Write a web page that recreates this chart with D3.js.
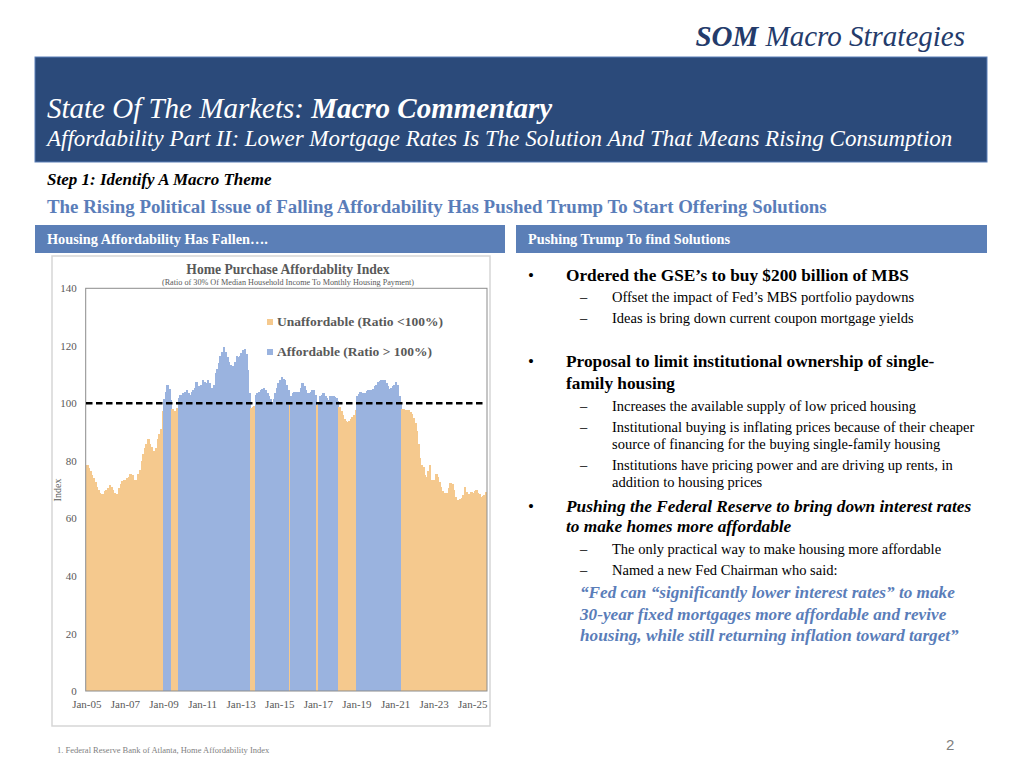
<!DOCTYPE html>
<html>
<head>
<meta charset="utf-8">
<script src="https://cdn.jsdelivr.net/npm/d3@7"></script>
<style>
  body { margin: 0; background: #fff; }
  svg text { font-family: "Liberation Serif", "Times New Roman", serif; }
</style>
</head>
<body>
<div id="page"></div>
<script>

// monthly affordability index, Jan-05 .. Sep-25
var idx2005 = [78.5, 77.5, 76.5, 75, 74, 72.5, 71, 70, 69, 68.5, 68.5, 69.5];
var idx2006 = [70, 70.5, 71.5, 71, 70, 69, 68.5, 68.5, 70.5, 72, 73, 73.5];
var idx2007 = [73.5, 74, 74.5, 75.5, 75, 73.5, 73.5, 73.5, 75.5, 77, 80, 82.5];
var idx2008 = [84.5, 86, 87.5, 86, 85, 83.5, 83, 84.5, 87.5, 89.5, 91, 97.5];
var idx2009 = [101.5, 104, 106.5, 105, 101, 98, 97.5, 97.5, 98.5, 102, 103, 103];
var idx2010 = [103.5, 104, 104.5, 103.5, 103, 104, 104.5, 105.5, 107.5, 106, 105, 106.5];
var idx2011 = [108, 107.5, 107, 108, 107, 105.5, 105.5, 106.5, 110.5, 112, 114, 116.5];
var idx2012 = [118, 119.5, 118, 116, 114.5, 113.5, 112, 113, 114.5, 116.5, 116, 116.5];
var idx2013 = [117.5, 118.5, 119, 117, 111.5, 103.5, 98.5, 98.8, 99, 103, 103.5, 104];
var idx2014 = [104.5, 105, 105.5, 104.5, 103.5, 102.5, 101.5, 100.5, 101.5, 103.5, 105.5, 107];
var idx2015 = [108, 109, 108.5, 108, 106.5, 104.5, 99.3, 102.5, 103.5, 104, 104, 103.5];
var idx2016 = [104, 105.5, 107, 106, 104.5, 103.5, 103.5, 104, 104.5, 104.7, 103, 99.3];
var idx2017 = [100.5, 102.5, 103, 103.5, 102.5, 101.8, 101.2, 102.5, 102.6, 102.6, 102.2, 101.7];
var idx2018 = [100.8, 98.8, 97.5, 96, 94.7, 93.8, 93.5, 94, 94.5, 95.1, 95.8, 97.8];
var idx2019 = [102.4, 103.2, 104, 103.5, 103, 103.5, 104.2, 104.5, 104.5, 104, 105, 106];
var idx2020 = [106.5, 107.4, 107.8, 108, 108.2, 108, 107, 106, 105, 105.5, 106, 106.5];
var idx2021 = [107.4, 106.5, 102.4, 100.5, 98.2, 98, 97.8, 97.7, 97.6, 97, 96.4, 95];
var idx2022 = [93, 90.5, 86, 81, 78.5, 78, 75, 74.5, 76.5, 78.5, 73.5, 70];
var idx2023 = [73.5, 75.6, 74.5, 72.7, 71, 69.5, 68.7, 67.5, 68.7, 70.5, 72.4, 72.1];
var idx2024 = [70, 67.5, 66.5, 66.3, 66.9, 67, 68.1, 71, 69.3, 68.5, 68.1, 69.3];
var idx2025 = [68.7, 69.5, 69.8, 68.7, 68.5, 67.5, 67.8, 68.1, 69.3];

var affordIndex = [].concat(idx2005, idx2006, idx2007, idx2008, idx2009, idx2010,
  idx2011, idx2012, idx2013, idx2014, idx2015, idx2016, idx2017, idx2018,
  idx2019, idx2020, idx2021, idx2022, idx2023, idx2024, idx2025);

var xTickLabels = ["Jan-05", "Jan-07", "Jan-09", "Jan-11", "Jan-13", "Jan-15",
  "Jan-17", "Jan-19", "Jan-21", "Jan-23", "Jan-25"];
var yTicks = [0, 20, 40, 60, 80, 100, 120, 140];
var threshold = 100;
var legendLabels = ["Unaffordable (Ratio <100%)", "Affordable (Ratio > 100%)"];
var seriesColors = ["#F5C98E", "#9AB3DF"];

var bullets = [
  {type: "main", text: "Ordered the GSE\u2019s to buy $200 billion of MBS", y: 281},
  {type: "sub", text: "Offset the impact of Fed\u2019s MBS portfolio paydowns", y: 302},
  {type: "sub", text: "Ideas is bring down current coupon mortgage yields", y: 322.5},
  {type: "main", text: "Proposal to limit institutional ownership of single-", y: 366.5},
  {type: "cont", text: "family housing", y: 389},
  {type: "sub", text: "Increases the available supply of low priced housing", y: 411},
  {type: "sub", text: "Institutional buying is inflating prices because of their cheaper", y: 431.5},
  {type: "cont2", text: "source of financing for the buying single-family housing", y: 448.5},
  {type: "sub", text: "Institutions have pricing power and are driving up rents, in", y: 469.5},
  {type: "cont2", text: "addition to housing prices", y: 486.5},
  {type: "mainI", text: "Pushing the Federal Reserve to bring down interest rates", y: 511.5},
  {type: "contI", text: "to make homes more affordable", y: 532},
  {type: "sub", text: "The only practical way to make housing more affordable", y: 553.5},
  {type: "sub", text: "Named a new Fed Chairman who said:", y: 575},
  {type: "quote", text: "\u201CFed can \u201Csignificantly lower interest rates\u201D to make", y: 598},
  {type: "quote", text: "30-year fixed mortgages more affordable and revive", y: 619.5},
  {type: "quote", text: "housing, while still returning inflation toward target\u201D", y: 641}
];

var svg = d3.select("#page")
  .append("svg")
    .attr("width", 1024)
    .attr("height", 772);

// ---- page header ----
var brand = svg.append("text")
    .attr("x", 965).attr("y", 46)
    .attr("text-anchor", "end")
    .style("font-size", "29px")
    .style("font-style", "italic")
    .style("fill", "#243B6B");
brand.append("tspan").style("font-weight", "bold").text("SOM");
brand.append("tspan").text(" Macro Strategies");

svg.append("rect")
    .attr("x", 35).attr("y", 57).attr("width", 952).attr("height", 105)
    .style("fill", "#2B4A7A")
    .style("stroke", "#5B7FB7").style("stroke-width", 1);

var t1 = svg.append("text")
    .attr("x", 47).attr("y", 118)
    .style("font-size", "29px").style("font-style", "italic")
    .style("fill", "#fff");
t1.append("tspan").text("State Of The Markets: ");
t1.append("tspan").style("font-weight", "bold").text("Macro Commentary");

svg.append("text")
    .attr("x", 47).attr("y", 146)
    .style("font-size", "23px").style("font-style", "italic")
    .style("fill", "#fff")
    .text("Affordability Part II: Lower Mortgage Rates Is The Solution And That Means Rising Consumption");

svg.append("text")
    .attr("x", 47).attr("y", 185)
    .style("font-size", "17px").style("font-style", "italic").style("font-weight", "bold")
    .style("fill", "#000")
    .text("Step 1: Identify A Macro Theme");

svg.append("text")
    .attr("x", 47).attr("y", 213)
    .style("font-size", "18.9px").style("font-weight", "bold")
    .style("fill", "#5A7DB9")
    .text("The Rising Political Issue of Falling Affordability Has Pushed Trump To Start Offering Solutions");

// section bars
var bars = [{x: 35, w: 470, t: "Housing Affordability Has Fallen\u2026."},
            {x: 516, w: 471, t: "Pushing Trump To find Solutions"}];
svg.selectAll(".secbar")
  .data(bars)
  .enter()
  .append("rect")
    .attr("x", function(d) { return d.x; })
    .attr("y", 225).attr("height", 28)
    .attr("width", function(d) { return d.w; })
    .style("fill", "#5B7FB7");
svg.selectAll(".sectxt")
  .data(bars)
  .enter()
  .append("text")
    .attr("x", function(d) { return d.x + 12; })
    .attr("y", 244)
    .style("font-size", "14.3px").style("font-weight", "bold")
    .style("fill", "#fff")
    .text(function(d) { return d.t; });

// ---- chart panel ----
svg.append("rect")
    .attr("x", 52).attr("y", 256).attr("width", 438).attr("height", 470)
    .style("fill", "#fff")
    .style("stroke", "#d6d6d6").style("stroke-width", 1.5);

var plot = {left: 85.7, top: 288.3, right: 487, bottom: 691};

var x = d3.scaleBand()
    .domain(d3.range(affordIndex.length))
    .range([86, 86 + affordIndex.length * 1.608])
    .padding(0);

var y = d3.scaleLinear()
    .domain([0, 140])
    .range([plot.bottom, plot.top]);

svg.append("g")
    .attr("shape-rendering", "crispEdges")
  .selectAll("rect")
  .data(affordIndex)
  .enter()
  .append("rect")
    .attr("x", function(d, i) { return x(i); })
    .attr("width", x.bandwidth() + 1)
    .attr("y", function(d) { return y(d); })
    .attr("height", function(d) { return y(0) - y(d); })
    .style("fill", function(d) { return d > threshold ? seriesColors[1] : seriesColors[0]; });

// frame
svg.append("rect")
    .attr("x", plot.left).attr("y", plot.top)
    .attr("width", plot.right - plot.left).attr("height", plot.bottom - plot.top)
    .style("fill", "none")
    .style("stroke", "#8c8c8c").style("stroke-width", 1);

// 100% line
svg.append("line")
    .attr("x1", x(0)).attr("x2", x.range()[1] - 2)
    .attr("y1", y(threshold)).attr("y2", y(threshold))
    .style("stroke", "#000").style("stroke-width", 2.5)
    .style("stroke-dasharray", "6.5,3.5");

// Y axis
var yAxis = svg.append("g")
    .attr("transform", "translate(" + plot.left + ",0)")
    .call(d3.axisLeft(y).tickValues(yTicks).tickSize(0).tickPadding(9));
yAxis.select(".domain").remove();
yAxis.selectAll("text")
    .style("font-family", "Liberation Serif, serif")
    .style("font-size", "11px").style("fill", "#595959");

// X axis
var xAxis = svg.append("g")
    .attr("transform", "translate(0," + plot.bottom + ")")
    .call(d3.axisBottom(x)
      .tickValues(d3.range(0, affordIndex.length, 24))
      .tickFormat(function(d) { return xTickLabels[d / 24]; })
      .tickSize(0).tickPadding(9));
xAxis.select(".domain").remove();
xAxis.selectAll("text")
    .style("font-family", "Liberation Serif, serif")
    .style("font-size", "11px").style("fill", "#595959");

svg.append("text")
    .attr("transform", "translate(61,490) rotate(-90)")
    .attr("text-anchor", "middle")
    .style("font-size", "10px").style("fill", "#595959")
    .text("Index");

// chart titles
svg.append("text")
    .attr("x", 288).attr("y", 274)
    .attr("text-anchor", "middle")
    .style("font-size", "13.6px").style("font-weight", "bold")
    .style("fill", "#595959")
    .text("Home Purchase Affordablity Index");
svg.append("text")
    .attr("x", 288).attr("y", 284.5)
    .attr("text-anchor", "middle")
    .style("font-size", "8.2px")
    .style("fill", "#595959")
    .text("(Ratio of 30% Of Median Household Income To Monthly Housing Payment)");

// legend
var legend = svg.append("g")
  .selectAll("g")
  .data(legendLabels)
  .enter()
  .append("g")
    .attr("transform", function(d, i) { return "translate(267," + (319 + i * 30) + ")"; });
legend.append("rect")
    .attr("width", 6).attr("height", 6)
    .style("fill", function(d, i) { return seriesColors[i]; });
legend.append("text")
    .attr("x", 10).attr("y", 6.5)
    .style("font-size", "13.5px").style("font-weight", "bold")
    .style("fill", "#595959")
    .text(function(d) { return d; });

// ---- right hand commentary ----
var rows = svg.append("g")
  .selectAll("g")
  .data(bullets)
  .enter()
  .append("g");

rows.filter(function(d) { return d.type == "main" || d.type == "mainI"; })
  .append("text")
    .attr("x", 528).attr("y", function(d) { return d.y; })
    .style("font-size", "17px")
    .text("\u2022");
rows.filter(function(d) { return d.type == "sub"; })
  .append("text")
    .attr("x", 580).attr("y", function(d) { return d.y; })
    .style("font-size", "14.5px")
    .text("\u2013");

rows.append("text")
    .attr("x", function(d) {
      if (d.type == "quote") return 580;
      if (d.type == "sub" || d.type == "cont2") return 612;
      return 566;
    })
    .attr("y", function(d) { return d.y; })
    .style("font-size", function(d) {
      if (d.type == "sub" || d.type == "cont2") return "14.5px";
      if (d.type == "quote") return "17.2px";
      return "17.3px";
    })
    .style("font-weight", function(d) {
      return (d.type == "sub" || d.type == "cont2") ? "normal" : "bold";
    })
    .style("font-style", function(d) {
      return (d.type == "mainI" || d.type == "contI" || d.type == "quote") ? "italic" : "normal";
    })
    .style("fill", function(d) { return d.type == "quote" ? "#5A7DB9" : "#000"; })
    .text(function(d) { return d.text; });

// footer
svg.append("text")
    .attr("x", 57).attr("y", 753)
    .style("font-size", "8.5px").style("fill", "#7f7f7f")
    .text("1. Federal Reserve Bank of Atlanta, Home Affordability Index");
svg.append("text")
    .attr("x", 946).attr("y", 750)
    .style("font-family", "Liberation Sans, sans-serif")
    .style("font-size", "15px").style("fill", "#7f7f7f")
    .text("2");

</script>
</body>
</html>
